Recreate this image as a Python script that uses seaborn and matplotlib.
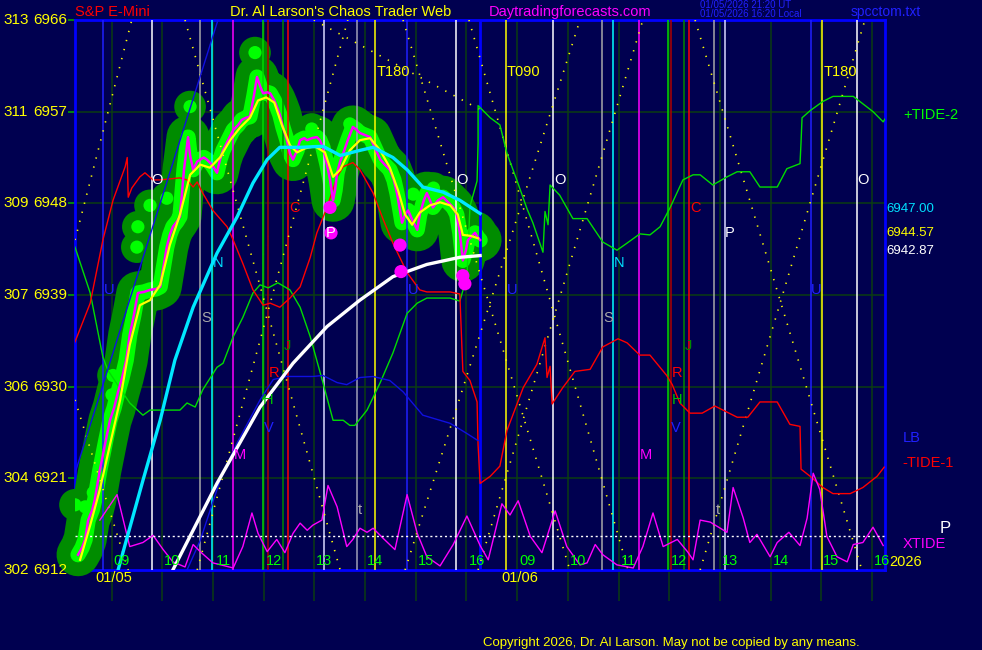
import matplotlib
matplotlib.use("Agg")
import matplotlib.pyplot as plt
import matplotlib.transforms as mtransforms
import seaborn as sns

# ---------------- data (time: 01/05 hours; 01/06 hours shifted by +8) ----------------
price = [(8.34, 6913.5), (8.42, 6914.2), (8.48, 6915.0), (8.54, 6916.9), (8.62, 6917.9), (8.67, 6918.9),
         (8.77, 6921.8), (8.83, 6923.3), (8.89, 6924.8), (8.97, 6926.7), (9.05, 6927.9), (9.13, 6929.5),
         (9.21, 6930.9), (9.29, 6932.6), (9.36, 6935.1), (9.44, 6937.0), (9.52, 6939.2), (9.64, 6939.3),
         (9.76, 6939.5), (9.88, 6939.6), (9.96, 6939.8), (10.04, 6942.2), (10.09, 6943.7), (10.15, 6944.9),
         (10.21, 6945.7), (10.29, 6946.2), (10.35, 6946.7), (10.43, 6951.3), (10.51, 6954.5), (10.55, 6952.7),
         (10.61, 6951.3), (10.69, 6952.1), (10.75, 6952.3), (10.82, 6952.5), (10.88, 6952.3), (10.98, 6951.8),
         (11.08, 6951.0), (11.14, 6952.3), (11.20, 6953.2), (11.30, 6954.2), (11.40, 6955.2), (11.50, 6955.7),
         (11.57, 6956.2), (11.65, 6956.4), (11.73, 6956.5), (11.81, 6958.6), (11.87, 6960.4), (11.93, 6959.5),
         (11.99, 6958.8), (12.07, 6958.9), (12.13, 6958.8), (12.21, 6958.1), (12.26, 6957.5), (12.32, 6956.7),
         (12.38, 6955.5), (12.46, 6954.2), (12.52, 6952.9), (12.58, 6952.3), (12.66, 6953.2), (12.72, 6954.2),
         (12.80, 6954.4), (12.86, 6954.2), (12.95, 6954.4), (13.05, 6954.5), (13.11, 6954.2), (13.17, 6953.5),
         (13.25, 6951.8), (13.31, 6950.3), (13.37, 6948.3), (13.41, 6949.3), (13.45, 6951.0), (13.51, 6952.1),
         (13.57, 6952.9), (13.66, 6954.2), (13.76, 6955.5), (13.84, 6955.2), (13.90, 6954.9), (14.00, 6954.7),
         (14.10, 6954.5), (14.20, 6953.4), (14.30, 6952.3), (14.39, 6951.8), (14.49, 6951.3), (14.57, 6950.3),
         (14.63, 6949.0), (14.69, 6947.3), (14.73, 6946.1), (14.79, 6946.9), (14.85, 6947.3), (14.93, 6946.4),
         (15.03, 6945.4), (15.08, 6946.9), (15.16, 6948.3), (15.22, 6949.0), (15.28, 6948.3), (15.34, 6947.6),
         (15.44, 6948.3), (15.54, 6948.6), (15.64, 6948.1), (15.74, 6947.6), (15.81, 6946.9), (15.87, 6945.1),
         (15.93, 6942.4), (15.99, 6943.4), (16.03, 6944.4), (16.11, 6944.8), (16.17, 6945.1), (16.23, 6944.6),
         (16.27, 6944.4)]

smooth = [(8.38, 6913.0), (8.58, 6916.4), (8.77, 6919.9), (8.97, 6924.3), (9.17, 6928.7), (9.36, 6934.1),
          (9.56, 6938.0), (9.76, 6938.5), (9.96, 6940.0), (10.15, 6943.9), (10.35, 6946.9), (10.55, 6950.8),
          (10.75, 6951.8), (10.94, 6951.5), (11.14, 6952.5), (11.34, 6954.2), (11.53, 6955.4), (11.73, 6956.4),
          (11.89, 6958.1), (12.05, 6958.4), (12.21, 6957.9), (12.36, 6955.7), (12.52, 6953.7), (12.66, 6953.0),
          (12.82, 6953.4), (13.01, 6953.6), (13.21, 6953.0), (13.37, 6950.6), (13.51, 6951.3), (13.70, 6953.2),
          (13.90, 6954.2), (14.10, 6954.4), (14.30, 6953.2), (14.49, 6951.5), (14.65, 6949.3), (14.79, 6946.9),
          (14.93, 6945.9), (15.08, 6947.1), (15.28, 6947.8), (15.48, 6948.1), (15.68, 6947.8), (15.83, 6946.9),
          (15.93, 6944.9), (16.09, 6944.8), (16.23, 6944.57)]

cyan_ma = [(9.13, 6912.0), (9.62, 6920.8), (9.96, 6926.7), (10.25, 6932.6), (10.61, 6937.8), (11.08, 6943.1),
           (11.48, 6946.7), (11.79, 6950.0), (12.07, 6952.3), (12.32, 6953.5), (12.72, 6953.5), (13.17, 6953.6),
           (13.51, 6952.7), (13.90, 6953.2), (14.16, 6953.5), (14.55, 6952.5), (14.83, 6951.3), (15.14, 6949.6),
           (15.54, 6949.1), (15.87, 6948.3), (16.27, 6947.0)]

white_ma = [(10.21, 6912.0), (11.08, 6920.5), (11.93, 6928.0), (12.58, 6932.3), (13.25, 6935.9),
            (13.90, 6938.5), (14.55, 6940.8), (15.22, 6942.0), (15.87, 6942.7), (16.27, 6942.87)]

tide2 = [(8.28, 6943.7), (8.58, 6939.2), (8.83, 6932.9), (8.93, 6931.6), (9.36, 6928.4), (9.62, 6927.2),
         (9.76, 6927.7), (10.35, 6927.7), (10.49, 6928.4), (10.65, 6928.0), (10.80, 6929.7), (11.08, 6931.9),
         (11.20, 6932.3), (11.40, 6934.9), (11.59, 6936.8), (11.79, 6939.2), (11.93, 6940.0), (12.09, 6939.7),
         (12.28, 6940.2), (12.52, 6939.5), (12.72, 6937.8), (12.92, 6934.9), (13.17, 6930.4), (13.37, 6926.7),
         (13.57, 6926.7), (13.70, 6926.2), (13.80, 6926.2), (14.04, 6927.7), (14.30, 6930.4), (14.55, 6933.3),
         (14.83, 6937.2), (15.03, 6938.2), (15.22, 6938.7), (15.68, 6938.7), (15.87, 6938.4), (16.01, 6940.8),
         (16.07, 6947.7), (16.21, 6950.2), (16.23, 6953.9), (16.23, 6957.6), (16.47, 6956.4), (16.66, 6955.7),
         (16.80, 6952.9), (17.00, 6950.2), (17.20, 6947.4), (17.31, 6946.1), (17.51, 6943.2), (17.55, 6947.2),
         (17.61, 6945.9), (17.65, 6949.8), (17.84, 6948.8), (18.10, 6946.5), (18.38, 6946.5), (18.69, 6944.2),
         (18.97, 6943.4), (19.17, 6944.1), (19.42, 6945.0), (19.62, 6944.9), (19.82, 6945.7), (20.02, 6947.6),
         (20.27, 6950.3), (20.47, 6950.8), (20.61, 6950.8), (20.86, 6949.8), (21.14, 6950.6), (21.34, 6951.1),
         (21.59, 6951.1), (21.79, 6949.6), (22.13, 6949.6), (22.32, 6951.4), (22.58, 6951.9), (22.60, 6954.0),
         (22.62, 6956.4), (22.78, 6957.1), (23.03, 6958.0), (23.23, 6958.5), (23.63, 6958.5), (23.76, 6958.0),
         (24.02, 6957.0), (24.22, 6956.0), (24.26, 6956.3)]

tide1 = [(8.28, 6934.4), (8.58, 6938.2), (8.83, 6944.4), (9.03, 6948.3), (9.27, 6951.6), (9.31, 6952.5),
         (9.33, 6948.6), (9.40, 6949.5), (9.56, 6950.6), (9.66, 6951.0), (9.82, 6950.3), (9.96, 6950.3),
         (10.35, 6950.5), (10.49, 6950.3), (10.61, 6949.6), (10.69, 6950.1), (10.80, 6949.0), (11.00, 6947.3),
         (11.28, 6945.7), (11.40, 6944.4), (11.59, 6942.1), (11.79, 6939.5), (11.99, 6938.0), (12.13, 6938.2),
         (12.32, 6937.8), (12.52, 6938.7), (12.72, 6939.8), (12.92, 6942.7), (13.05, 6945.1), (13.25, 6947.6),
         (13.45, 6950.6), (13.57, 6951.6), (13.76, 6952.0), (13.90, 6951.3), (14.16, 6949.0), (14.36, 6946.4),
         (14.55, 6944.1), (14.83, 6941.2), (15.08, 6939.5), (15.22, 6939.3), (15.68, 6939.3), (15.87, 6939.1),
         (15.93, 6931.5), (16.07, 6930.6), (16.21, 6928.5), (16.23, 6924.3), (16.27, 6920.5), (16.47, 6921.2),
         (16.66, 6922.2), (16.80, 6925.7), (17.12, 6929.9), (17.39, 6932.2), (17.55, 6934.8), (17.59, 6930.9),
         (17.65, 6932.0), (17.69, 6928.3), (17.90, 6929.9), (18.14, 6931.5), (18.44, 6931.7), (18.69, 6933.9),
         (18.99, 6934.7), (19.17, 6934.3), (19.42, 6933.1), (19.62, 6933.1), (19.95, 6931.1), (20.06, 6930.2),
         (20.21, 6928.4), (20.41, 6927.4), (20.65, 6927.4), (20.90, 6928.1), (21.14, 6927.5), (21.34, 6927.0),
         (21.55, 6927.0), (21.79, 6928.5), (22.13, 6928.5), (22.38, 6926.3), (22.58, 6926.1), (22.60, 6921.9),
         (22.78, 6921.2), (23.03, 6920.1), (23.23, 6919.5), (23.57, 6919.5), (23.82, 6920.1), (24.10, 6921.2),
         (24.24, 6922.1)]

xtide = [(8.77, 6916.9), (9.11, 6919.4), (9.36, 6914.3), (9.62, 6914.7), (9.82, 6915.4), (10.02, 6914.0),
         (10.21, 6912.8), (10.45, 6912.3), (10.61, 6914.5), (10.75, 6913.8), (11.00, 6912.7), (11.40, 6912.2),
         (11.59, 6914.3), (11.77, 6917.6), (11.89, 6915.6), (12.07, 6913.8), (12.26, 6915.0), (12.42, 6913.7),
         (12.58, 6915.6), (12.72, 6916.6), (12.86, 6915.9), (12.97, 6916.4), (13.15, 6916.9), (13.27, 6920.3),
         (13.45, 6918.2), (13.64, 6914.3), (13.76, 6915.0), (13.90, 6916.1), (14.04, 6915.7), (14.16, 6916.1),
         (14.36, 6915.1), (14.59, 6914.0), (14.83, 6919.4), (15.03, 6915.6), (15.22, 6913.3), (15.48, 6912.4),
         (15.74, 6914.5), (16.01, 6917.3), (16.27, 6914.4), (16.43, 6913.0), (16.70, 6918.5), (16.86, 6917.4),
         (17.02, 6918.8), (17.26, 6915.3), (17.49, 6913.7), (17.75, 6917.8), (17.98, 6914.3), (18.24, 6912.5),
         (18.38, 6912.7), (18.54, 6914.5), (18.69, 6913.5), (18.97, 6912.5), (19.29, 6912.2), (19.48, 6914.3),
         (19.68, 6917.6), (19.88, 6914.3), (20.16, 6915.0), (20.36, 6913.8), (20.47, 6913.0), (20.61, 6916.9),
         (20.81, 6916.7), (21.14, 6915.7), (21.26, 6920.1), (21.46, 6917.1), (21.59, 6914.7), (21.73, 6915.5),
         (21.99, 6913.3), (22.13, 6914.7), (22.36, 6915.7), (22.58, 6914.4), (22.72, 6917.1), (22.84, 6921.5),
         (22.97, 6919.9), (23.11, 6915.3), (23.31, 6913.3), (23.51, 6912.8), (23.63, 6914.5), (23.82, 6914.7),
         (24.02, 6916.2), (24.22, 6914.4)]
xtide_zero = 6915.3

blue_fast = [(8.28, 6921.5), (11.10, 6966.0)]
blue_lb = [(10.49, 6912.0), (10.75, 6914.9), (11.14, 6920.8), (11.48, 6924.5), (11.93, 6928.7), (12.19, 6930.7),
           (12.46, 6931.0), (12.97, 6931.0), (13.17, 6931.1), (13.45, 6930.4), (13.64, 6930.2), (13.90, 6930.9),
           (14.16, 6931.0), (14.49, 6930.6), (14.75, 6929.5), (15.14, 6927.2), (15.68, 6926.4), (16.01, 6925.4),
           (16.23, 6924.7)]

# yellow dotted angle lines (start, end)
angle_lines = [((8.28, 6944.4), (9.40, 6966.0)), ((8.28, 6928.7), (9.33, 6912.0)),
               ((10.45, 6966.0), (13.51, 6912.0)), ((10.69, 6912.0), (13.66, 6966.0)),
               ((14.75, 6966.0), (18.04, 6912.0)), ((14.79, 6912.0), (18.24, 6966.0)),
               ((16.05, 6966.0), (19.19, 6912.0)), ((16.23, 6912.0), (19.48, 6966.0)),
               ((20.51, 6966.0), (23.80, 6912.0)), ((20.61, 6912.0), (23.86, 6966.0)),
               ((12.99, 6966.0), (16.27, 6957.2))]

# vertical event lines (time, colour)
event_lines = [(8.83, '#2020ff'), (9.80, '#ffffff'), (10.75, '#a8a8a8'), (10.98, '#00ffff'), (11.40, '#ff00ff'),
               (11.99, '#00d800'), (12.09, '#b00000'), (12.38, '#008a00'), (12.48, '#ff0000'), (13.19, '#d8d8ff'),
               (13.84, '#a0a0b8'), (14.20, '#ffff00'), (14.83, '#2020ff'), (15.79, '#ffffff'),
               (16.78, '#ffff00'), (17.71, '#ffffff'), (18.67, '#a8a8a8'), (18.89, '#00ffff'), (19.40, '#ff00ff'),
               (19.98, '#00d800'), (20.04, '#b00000'), (20.30, '#008a00'), (20.40, '#ff0000'), (20.88, '#a8a8a8'),
               (21.10, '#d8d8ff'), (22.80, '#2020ff'), (23.01, '#ffff00'), (23.70, '#ffffff')]
now_line = 16.27

pivot_dots = [(13.31, 6947.6), (13.33, 6945.1), (14.69, 6943.9), (14.71, 6941.3), (15.93, 6940.9), (15.97, 6940.1)]
bubbles = [(11.83, 6962.8), (10.55, 6957.5), (10.09, 6948.5), (9.76, 6947.8), (9.52, 6945.7), (9.50, 6943.7),
           (9.03, 6931.1), (9.01, 6929.2), (8.64, 6919.6), (8.28, 6918.4), (8.48, 6918.2),
           (13.70, 6955.8), (12.95, 6955.3), (14.95, 6948.9), (15.35, 6949.5)]

planet_marks = [('O', 9.90, 6950.3, '#ffffff'), ('O', 15.91, 6950.3, '#ffffff'), ('O', 17.85, 6950.3, '#ffffff'),
                ('O', 23.82, 6950.3, '#ffffff'), ('U', 8.95, 6939.5, '#2020ff'), ('U', 14.95, 6939.5, '#2020ff'),
                ('U', 16.90, 6939.5, '#2020ff'), ('U', 22.89, 6939.5, '#2020ff'), ('N', 11.10, 6942.1, '#00e0ff'),
                ('N', 19.01, 6942.1, '#00e0ff'), ('S', 10.86, 6936.7, '#a8a8a8'), ('S', 18.79, 6936.7, '#a8a8a8'),
                ('C', 12.60, 6947.5, '#ff0000'), ('C', 20.51, 6947.5, '#ff0000'), ('P', 13.33, 6945.1, '#ffffff'),
                ('P', 21.20, 6945.1, '#ffffff'), ('R', 12.21, 6931.3, '#ff0000'), ('R', 20.15, 6931.3, '#ff0000'),
                ('H', 12.09, 6928.7, '#00c000'), ('H', 20.15, 6928.7, '#00c000'), ('V', 12.11, 6925.9, '#2020ff'),
                ('V', 20.13, 6925.9, '#2020ff'), ('M', 11.53, 6923.3, '#ff00ff'), ('M', 19.54, 6923.3, '#ff00ff'),
                ('J', 12.46, 6934.0, '#008a00'), ('J', 20.37, 6934.0, '#008a00'), ('t', 13.90, 6917.9, '#a8a8a8'),
                ('t', 20.96, 6917.9, '#a8a8a8')]
time_marks = [('T180', 14.22, 6960.9), ('T090', 16.80, 6960.9), ('T180', 23.05, 6960.9)]

price_levels = [6912, 6921, 6930, 6939, 6948, 6957, 6966]
degree_levels = [302, 304, 306, 307, 309, 311, 313]
hour_pos = [9, 10, 11, 12, 13, 14, 15, 16, 17, 18, 19, 20, 21, 22, 23, 24]
hour_text = ['09', '10', '11', '12', '13', '14', '15', '16', '09', '10', '11', '12', '13', '14', '15', '16']
day_labels = [('01/05', 9.05), ('01/06', 17.06)]
last_values = [('6947.00', 6947.4, '#00e0ff'), ('6944.57', 6945.1, '#ffff00'), ('6942.87', 6943.3, '#ffffff')]

# ---------------- styling ----------------
BG = '#000050'
GRID = '#0b3d12'
plt.rcParams['font.family'] = ['Liberation Sans', 'DejaVu Sans']

fig = plt.figure(figsize=(9.82, 6.5), dpi=100)
fig.patch.set_facecolor(BG)
ax = fig.add_axes([75 / 982, 80 / 650, 810 / 982, 550 / 650])
ax.set_facecolor(BG)
ax.set_xlim(8.28, 24.256)
ax.set_ylim(6912, 6966)

def xy(pairs):
    return [a for a, b in pairs], [b for a, b in pairs]

def line(pairs, **kw):
    xs, ys = xy(pairs)
    return sns.lineplot(x=xs, y=ys, ax=ax, estimator=None, sort=False, legend=False, **kw)

# grid
for h in hour_pos:
    ax.axvline(h, color=GRID, lw=1.1, zorder=1)
ax.vlines(hour_pos, 6909.0, 6912.0, colors=GRID, lw=1.1, clip_on=False, zorder=1)
for lv in price_levels[1:-1]:
    ax.axhline(lv, color=GRID, lw=1.1, zorder=1)

# green price envelope
n0 = len(ax.lines)
line(price, color='#008c00', linewidth=31, solid_capstyle='round', solid_joinstyle='round', zorder=2)
line(price, color='#00ff00', linewidth=11, solid_capstyle='round', solid_joinstyle='round', zorder=2.1)
for ln in ax.lines[n0:]:
    ln.set_clip_on(False)
bx, by = xy(bubbles)
sns.scatterplot(x=bx, y=by, ax=ax, color='#008c00', s=520, edgecolor='none', zorder=2.05, legend=False,
                clip_on=False)
sns.scatterplot(x=bx, y=by, ax=ax, color='#00ff00', s=90, edgecolor='none', zorder=2.2, legend=False)

# event verticals
for t, c in event_lines:
    ax.axvline(t, color=c, lw=1.1, zorder=3)
ax.axvline(now_line, color='#0000ff', lw=2, zorder=3)

# angle lines
for (a, b) in angle_lines:
    line([a, b], color='#ffff00', linewidth=1.2, linestyle=(0, (0.8, 4.8)), zorder=3.5)

# tides
line(tide2, color='#00dd00', linewidth=1.0, zorder=4)
line(tide1, color='#ff0000', linewidth=1.0, zorder=4)
line(blue_fast, color='#1010e0', linewidth=1.0, zorder=4)
line(blue_lb, color='#1010e0', linewidth=1.0, zorder=4)
line(xtide, color='#ff00ff', linewidth=1.0, zorder=4)
ax.axhline(xtide_zero, color='#ffffff', lw=1.0, linestyle=(0, (1.5, 2)), zorder=4)

# price and averages
line(price, color='#ff00ff', linewidth=1.8, zorder=5)
line(smooth, color='#ffff00', linewidth=1.6, zorder=5.1)
line(cyan_ma, color='#00e8ff', linewidth=2.4, zorder=5.2)
line(white_ma, color='#ffffff', linewidth=2.4, zorder=5.2)
px, py = xy(pivot_dots)
sns.scatterplot(x=px, y=py, ax=ax, color='#ff00ff', s=90, edgecolor='none', zorder=6, legend=False)

# letters
for s, t, p, c in planet_marks:
    ax.text(t, p, s, color=c, fontsize=10.5, ha='center', va='center', zorder=7)
for s, t, p in time_marks:
    ax.text(t, p, s, color='#ffff00', fontsize=10.5, ha='left', va='center', zorder=7)

# hour labels
for h, s in zip(hour_pos, hour_text):
    ax.text(h + 0.2, 6912.9, s, color='#00ff00', fontsize=10.5, ha='center', va='center', zorder=7, clip_on=False)
dxa = mtransforms.blended_transform_factory(ax.transData, ax.transAxes)
for s, t in day_labels:
    ax.text(t, -0.015, s, color='#ffff00', fontsize=10.5, ha='center', va='center', transform=dxa)

# left scale
axy = mtransforms.blended_transform_factory(ax.transAxes, ax.transData)
for d, p in zip(degree_levels, price_levels):
    ax.text(-0.088, p, str(d), color='#ffff00', fontsize=11, ha='left', va='center', transform=axy)
    ax.text(-0.052, p, str(p), color='#ffff00', fontsize=11, ha='left', va='center', transform=axy)
ax.set_xticks([])
ax.set_yticks(price_levels)
ax.tick_params(axis='y', length=5, width=1.2, color='#00a000', labelleft=False)

# right labels
ax.text(1.022, 6956.7, '+TIDE-2', color='#00ff00', fontsize=10.5, ha='left', va='center', transform=axy)
for s, p, c in last_values:
    ax.text(1.002, p, s, color=c, fontsize=9.5, ha='left', va='center', transform=axy)
ax.text(1.022, 6925.0, 'LB', color='#2020ff', fontsize=10.5, ha='left', va='center', transform=axy)
ax.text(1.022, 6922.5, '-TIDE-1', color='#ff0000', fontsize=10.5, ha='left', va='center', transform=axy)
ax.text(1.068, 6916.1, 'P', color='#ffffff', fontsize=12, ha='left', va='center', transform=axy)
ax.text(1.022, 6914.6, 'XTIDE', color='#ff00ff', fontsize=10.5, ha='left', va='center', transform=axy)
ax.text(1.005, 6912.8, '2026', color='#ffff00', fontsize=10.5, ha='left', va='center', transform=axy)

for sp in ax.spines.values():
    sp.set_color('#0000ff')
    sp.set_linewidth(2)
    sp.set_zorder(1.9)

# header / footer
fig.text(75 / 982, 1 - 12 / 650, 'S&P E-Mini', color='#ff0000', fontsize=10.5, ha='left', va='center')
fig.text(230 / 982, 1 - 12 / 650, "Dr. Al Larson's Chaos Trader Web", color='#ffff00', fontsize=10.5, ha='left', va='center')
fig.text(489 / 982, 1 - 12 / 650, 'Daytradingforecasts.com', color='#ff00ff', fontsize=10.5, ha='left', va='center')
fig.text(700 / 982, 1 - 5 / 650, '01/05/2026 21:20 UT', color='#2020ff', fontsize=7, ha='left', va='center')
fig.text(700 / 982, 1 - 14 / 650, '01/05/2026 16:20 Local', color='#2020ff', fontsize=7, ha='left', va='center')
fig.text(851 / 982, 1 - 12 / 650, 'spcctom.txt', color='#2020ff', fontsize=10, ha='left', va='center')
fig.text(483 / 982, 1 - 643 / 650, 'Copyright 2026, Dr. Al Larson. May not be copied by any means.',
         color='#ffff00', fontsize=9.5, ha='left', va='center')

fig.savefig('out.png', dpi=100, facecolor=BG)
